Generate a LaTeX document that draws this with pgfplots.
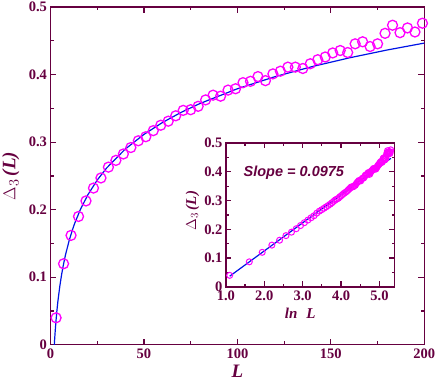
\documentclass[border=0pt]{standalone}
\usepackage{fontspec}
\setmainfont{Liberation Serif}
\newfontfamily\arialf{Liberation Sans}
\usepackage{pgfplots}
\usepackage{pgfplotstable}
\pgfplotsset{compat=1.18}
\definecolor{mar}{RGB}{102,0,64}
\definecolor{mag}{RGB}{255,0,255}
\definecolor{bl}{RGB}{0,20,230}

\pgfplotstableread{
L D
3 0.040
5 0.087
7 0.120
9 0.145
11 0.162
13 0.178
15 0.190
17 0.202
19 0.213
21 0.223
23 0.232
25 0.240
27 0.247
29 0.256
31 0.263
33 0.268
35 0.273
37 0.278
39 0.2825
41 0.287
43 0.292
45 0.297
47 0.302
49 0.305
51 0.308
53 0.313
55 0.317
57 0.321
59 0.325
61 0.328
63 0.331
65 0.335
67 0.339
69 0.343
71 0.347
73 0.347
75 0.348
77 0.351
79 0.353
81 0.358
83 0.3625
85 0.366
87 0.3695
89 0.369
91 0.368
93 0.373
95 0.377
97 0.378
99 0.379
101 0.384
103 0.388
105 0.389
107 0.390
109 0.394
111 0.397
113 0.394
115 0.391
117 0.396
119 0.401
121 0.403
123 0.405
125 0.408
127 0.411
129 0.411
131 0.411
133 0.410
135 0.409
137 0.413
139 0.416
141 0.419
143 0.422
145 0.424
147 0.426
149 0.429
151 0.432
153 0.434
155 0.4356
157 0.434
159 0.4326
161 0.439
163 0.4455
165 0.447
167 0.4485
169 0.445
171 0.4415
173 0.443
175 0.4455
177 0.453
179 0.461
181 0.467
183 0.473
185 0.467
187 0.462
189 0.465
191 0.469
193 0.466
195 0.463
197 0.469
199 0.476
}\data

\pgfplotstableread{
L D
2.05 0
2.2 0.0069
2.5 0.0193
3 0.0371
3.5 0.0521
4 0.0652
5 0.0869
6 0.1047
7 0.1197
8 0.1327
10 0.1545
12 0.1723
13 0.1801
16 0.2003
20 0.2221
25 0.2438
30 0.2616
40 0.2897
50 0.3114
60 0.3292
70 0.3442
80 0.3572
100 0.3790
120 0.3968
140 0.4118
160 0.4248
180 0.4363
200 0.4466
}\fitdata

\begin{document}
\begin{tikzpicture}
\begin{axis}[name=main, width=374pt, height=338pt, scale only axis,
  xmin=0, xmax=200, ymin=0, ymax=0.5,
  xtick={0,50,100,150,200}, ytick={0,0.1,0.2,0.3,0.4,0.5},
  minor x tick num=1, minor y tick num=1,
  tick align=inside, major tick length=6pt, minor tick length=3.5pt,
  axis line style={draw=mar, line width=1.3pt},
  tick style={draw=mar, line width=1.2pt},
  /pgf/number format/assume math mode=true,
  tick label style={font=\bfseries\fontsize{14.5}{14.5}\selectfont, text=mar},
  xlabel={\textbf{\textit{L}}},
  ylabel={$\Delta_3$\,\textbf{\textit{(L)}}},
  label style={font=\fontsize{19}{19}\selectfont, text=mar, inner sep=0pt},
  xlabel style={at={(axis description cs:0.5,-0.079)}, anchor=center},
  ylabel style={at={(axis description cs:-0.106,0.5)}, anchor=center},
  clip=false,
]
\addplot[only marks, mark=o, mag, mark size=5pt, line width=1.3pt, each nth point=2] table[x=L, y=D] {\data};
\addplot[bl, line width=1.2pt] table[x=L, y=D] {\fitdata};
\end{axis}
\begin{axis}[at={(main.south west)}, xshift=175.5pt, yshift=58pt, anchor=south west,
  width=169pt, height=144pt, scale only axis,
  xmin=1, xmax=5.4, ymin=0, ymax=0.5,
  xtick={1,2,3,4,5}, ytick={0,0.1,0.2,0.3,0.4,0.5},
  minor x tick num=1, minor y tick num=1,
  tick align=inside, major tick length=5.5pt, minor tick length=3pt,
  axis line style={draw=mar, line width=1.3pt},
  tick style={draw=mar, line width=1.2pt},
  /pgf/number format/assume math mode=true,
  tick label style={font=\bfseries\fontsize{14.5}{14.5}\selectfont, text=mar},
  xticklabel style={/pgf/number format/.cd, fixed, fixed zerofill, precision=1},
  xlabel={\textbf{\textit{ln}}\hspace{9pt}\textbf{\textit{L}}},
  ylabel={$\Delta_3$\,\textbf{\textit{(L)}}},
  label style={font=\fontsize{15}{15}\selectfont, text=mar},
  xlabel style={at={(axis description cs:0.44,-0.183)}, anchor=center},
  ylabel style={at={(axis description cs:-0.198,0.53)}, anchor=center},
  clip=false,
]
\addplot[only marks, mark=o, mag, mark size=3pt, line width=1pt] table[x expr=ln(\thisrow{L}), y=D] {\data};
\addplot[bl, line width=1.2pt] coordinates {(1.0986,0.037) (5.2983,0.4466)};
\node[font=\arialf\bfseries\itshape\fontsize{14.5}{14.5}\selectfont, text=mar] at (axis cs:2.77,0.398) {Slope = 0.0975};
\end{axis}
\pgfresetboundingbox
\path ([shift={(-50.5pt,-37.3pt)}]main.south west) rectangle ([shift={(11.7pt,7pt)}]main.north east);
\end{tikzpicture}
\end{document}
